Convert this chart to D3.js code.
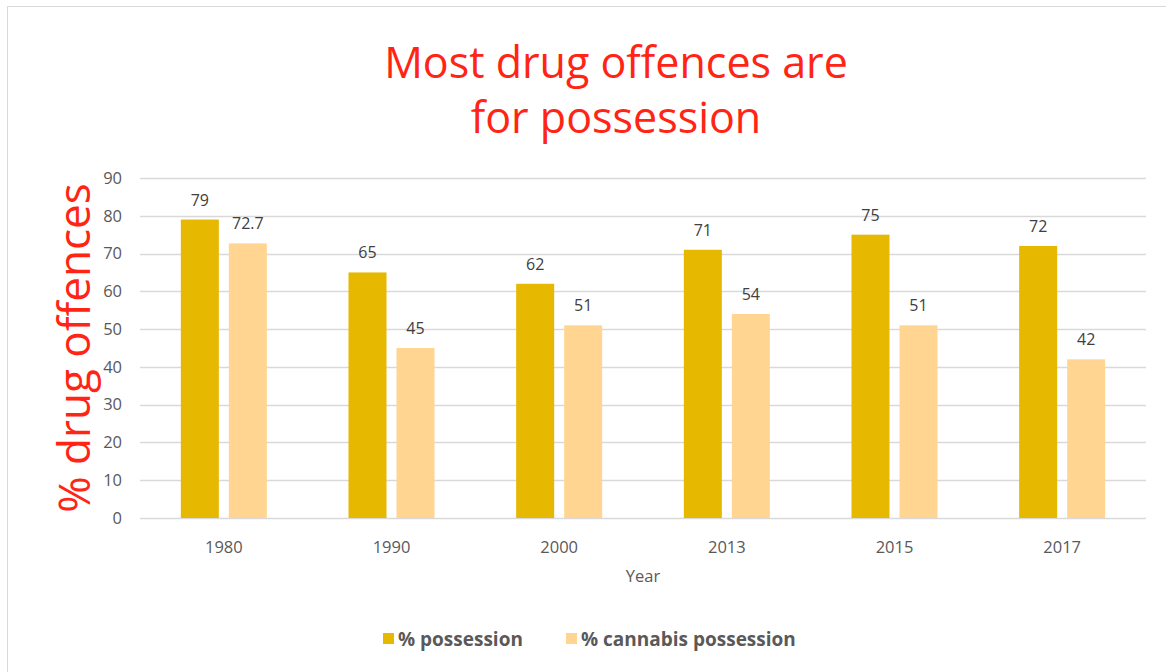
<!DOCTYPE html>
<html>
<head>
<meta charset="utf-8">
<script src="https://cdn.jsdelivr.net/npm/d3@7"></script>
<style>
  body { margin: 0; background: #fff; }
  svg { display: block; font-family: "Open Sans", sans-serif; }
</style>
</head>
<body>
<div id="chart"></div>
<script>
// data
const years = ['1980', '1990', '2000', '2013', '2015', '2017'];
const possession = [79, 65, 62, 71, 75, 72];
const cannabis = [72.7, 45, 51, 54, 51, 42];
const seriesNames = ['% possession', '% cannabis possession'];
const seriesColors = ['#E6B800', '#FFD591'];
const yTicks = [0, 10, 20, 30, 40, 50, 60, 70, 80, 90];

const width = 1166, height = 672;
const margin = { top: 178, right: 20, bottom: 154, left: 140 };
const plotW = 1146 - margin.left;
const plotH = 518 - margin.top;

const svg = d3.select('#chart').append('svg')
    .attr('width', width)
    .attr('height', height);

// chart frame
svg.append('rect')
    .attr('x', 7.5).attr('y', 6.5)
    .attr('width', 1170).attr('height', 700)
    .attr('fill', '#fff')
    .attr('stroke', '#d9d9d9');

// title, two lines
svg.append('text')
    .attr('x', 616).attr('y', 78)
    .attr('text-anchor', 'middle')
    .attr('fill', '#FF2414')
    .style('font-size', '43px')
    .text('Most drug offences are');
svg.append('text')
    .attr('x', 616).attr('y', 133)
    .attr('text-anchor', 'middle')
    .attr('fill', '#FF2414')
    .style('font-size', '43px')
    .text('for possession');

const g = svg.append('g')
    .attr('transform', `translate(${margin.left},${margin.top})`);

const x = d3.scaleBand().domain(years).range([0, plotW]);
const y = d3.scaleLinear().domain([0, 90]).range([plotH, 0]);

// gridlines
g.selectAll('.grid')
    .data(yTicks)
    .enter().append('line')
      .attr('class', 'grid')
      .attr('x1', 0).attr('x2', plotW)
      .attr('y1', d => Math.round(y(d)) + 0.5)
      .attr('y2', d => Math.round(y(d)) + 0.5)
      .attr('stroke', '#d9d9d9')
      .attr('stroke-width', 1.5);

// y tick labels
g.selectAll('.ytick')
    .data(yTicks)
    .enter().append('text')
      .attr('class', 'ytick')
      .attr('x', -18)
      .attr('y', d => y(d))
      .attr('dy', '0.35em')
      .attr('text-anchor', 'end')
      .attr('fill', '#595959')
      .style('font-size', '16.5px')
      .text(d => d);

// x tick labels
g.selectAll('.xtick')
    .data(years)
    .enter().append('text')
      .attr('class', 'xtick')
      .attr('x', d => x(d) + x.bandwidth() / 2)
      .attr('y', plotH + 35)
      .attr('text-anchor', 'middle')
      .attr('fill', '#595959')
      .style('font-size', '16.5px')
      .text(d => d);

// bars
const barW = 38, gap = 10;
const series = [possession, cannabis];
series.forEach((vals, s) => {
  const offset = s === 0 ? -(barW + gap / 2) : gap / 2;
  const data = years.map((yr, i) => ({ year: yr, value: vals[i] }));

  g.selectAll('.bar' + s)
      .data(data)
      .enter().append('rect')
        .attr('class', 'bar' + s)
        .attr('x', d => x(d.year) + x.bandwidth() / 2 + offset)
        .attr('y', d => y(d.value))
        .attr('width', barW)
        .attr('height', d => plotH - y(d.value))
        .attr('fill', seriesColors[s]);

  g.selectAll('.lbl' + s)
      .data(data)
      .enter().append('text')
        .attr('class', 'lbl' + s)
        .attr('x', d => x(d.year) + x.bandwidth() / 2 + offset + barW / 2)
        .attr('y', d => y(d.value) - 14)
        .attr('text-anchor', 'middle')
        .attr('fill', '#404040')
        .style('font-size', '16px')
        .text(d => d.value);
});

// axis titles
svg.append('text')
    .attr('x', 643).attr('y', 582)
    .attr('text-anchor', 'middle')
    .attr('fill', '#595959')
    .style('font-size', '16.5px')
    .text('Year');

svg.append('text')
    .attr('transform', 'translate(90,348) rotate(-90)')
    .attr('text-anchor', 'middle')
    .attr('fill', '#FF2414')
    .style('font-size', '44px')
    .text('% drug offences');

// legend
const legendX = [383, 566];
seriesNames.forEach((name, s) => {
  const lg = svg.append('g').attr('transform', `translate(${legendX[s]},633)`);
  lg.append('rect')
      .attr('width', 11).attr('height', 11)
      .attr('fill', seriesColors[s]);
  lg.append('text')
      .attr('x', 15).attr('y', 13)
      .attr('fill', '#595959')
      .style('font-size', '19px')
      .style('font-weight', 'bold')
      .text(name);
});
</script>
</body>
</html>
